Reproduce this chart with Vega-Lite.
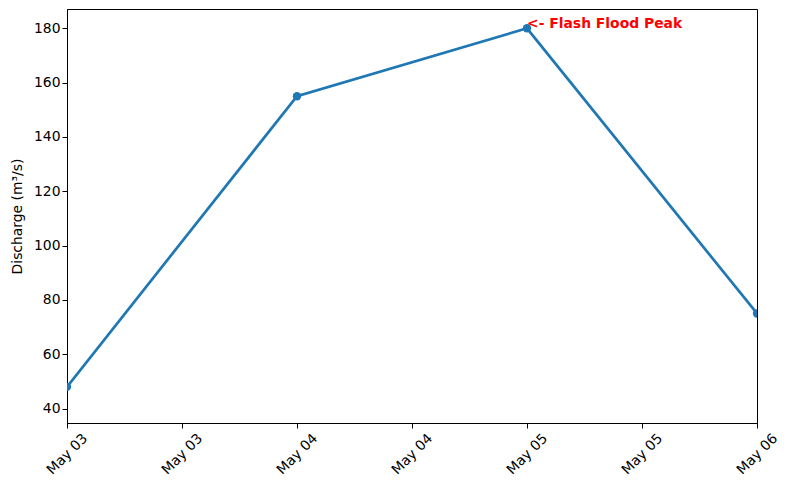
{
  "$schema": "https://vega.github.io/schema/vega-lite/v6.json",
  "width": 690,
  "height": 414,
  "autosize": "none",
  "padding": {"left": 67, "top": 9, "right": 33, "bottom": 66},
  "background": "white",
  "data": {
    "values": [
      {"date": "2024-05-03", "discharge": 48, "note": ""},
      {"date": "2024-05-04", "discharge": 155, "note": ""},
      {"date": "2024-05-05", "discharge": 180, "note": "<- Flash Flood Peak"},
      {"date": "2024-05-06", "discharge": 75, "note": ""}
    ]
  },
  "encoding": {
    "x": {
      "field": "date",
      "type": "temporal",
      "scale": {"type": "utc", "nice": false},
      "axis": {
        "title": null,
        "format": "%b %d",
        "values": [
          {"year": 2024, "month": 5, "date": 3, "hours": 0, "utc": true},
          {"year": 2024, "month": 5, "date": 3, "hours": 12, "utc": true},
          {"year": 2024, "month": 5, "date": 4, "hours": 0, "utc": true},
          {"year": 2024, "month": 5, "date": 4, "hours": 12, "utc": true},
          {"year": 2024, "month": 5, "date": 5, "hours": 0, "utc": true},
          {"year": 2024, "month": 5, "date": 5, "hours": 12, "utc": true},
          {"year": 2024, "month": 5, "date": 6, "hours": 0, "utc": true}
        ],
        "labelAngle": -45,
        "labelAlign": "center",
        "labelBaseline": "middle",
        "labelPadding": 26,
        "labelFlush": false,
        "labelOverlap": false
      }
    },
    "y": {
      "field": "discharge",
      "type": "quantitative",
      "scale": {"domain": [34.7, 187.1], "nice": false, "zero": false},
      "axis": {"title": "Discharge (m³/s)", "values": [40, 60, 80, 100, 120, 140, 160, 180], "titlePadding": 9}
    }
  },
  "layer": [
    {
      "mark": {"type": "line", "color": "#1f77b4", "strokeWidth": 2.7, "clip": true}
    },
    {
      "mark": {"type": "circle", "color": "#1f77b4", "opacity": 1, "size": 70, "clip": true}
    },
    {
      "transform": [{"filter": "datum.note != ''"}],
      "mark": {
        "type": "text",
        "align": "left",
        "baseline": "alphabetic",
        "color": "red",
        "fontWeight": "bold",
        "font": "DejaVu Sans",
        "fontSize": 13.9
      },
      "encoding": {"text": {"field": "note"}}
    }
  ],
  "config": {
    "view": {"stroke": "black", "strokeWidth": 1},
    "axis": {
      "grid": false,
      "domainColor": "black",
      "tickColor": "black",
      "tickSize": 5,
      "labelColor": "black",
      "labelFont": "DejaVu Sans",
      "labelFontSize": 13.9,
      "titleFont": "DejaVu Sans",
      "titleFontSize": 13.9,
      "titleFontWeight": "normal",
      "titleColor": "black"
    }
  }
}
